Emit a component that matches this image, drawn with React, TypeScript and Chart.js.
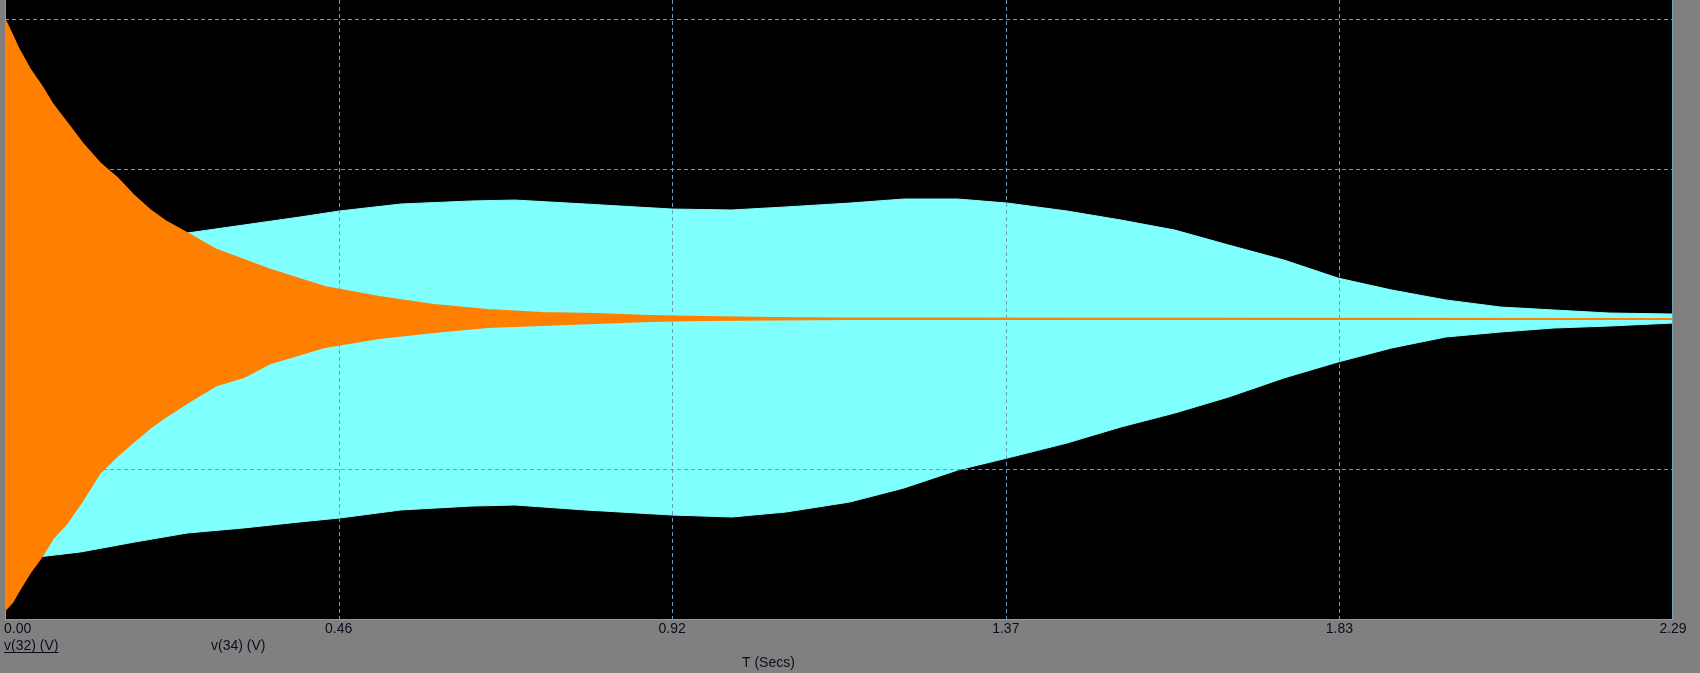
import React, { useEffect, useRef } from "react";
import { Chart, registerables } from "chart.js";

Chart.register(...registerables);

// ---- axis / text data ----
const xTickValues = [0, 0.458, 0.916, 1.374, 1.832, 2.29];
const xTickLabels = ["0.00", "0.46", "0.92", "1.37", "1.83", "2.29"];
const yGridValues = [-1, 0, 1, 2];
const seriesNames = ["v(32) (V)", "v(34) (V)"];
const xAxisTitle = "T (Secs)";

// ---- v(34) (cyan) envelope ----
const v34Time = [
  0.004, 0.045, 0.104, 0.178, 0.25, 0.328, 0.405, 0.459, 0.544, 0.641, 0.7,
  0.796, 0.916, 0.998, 1.072, 1.16, 1.234, 1.308, 1.376, 1.458, 1.532, 1.606,
  1.68, 1.756, 1.83, 1.904, 1.978, 2.053, 2.127, 2.202, 2.29,
];
const v34Upper = [
  0.527, 0.533, 0.54, 0.553, 0.573, 0.627, 0.68, 0.72, 0.767, 0.787, 0.793,
  0.767, 0.733, 0.727, 0.747, 0.773, 0.8, 0.8, 0.773, 0.72, 0.66, 0.593,
  0.493, 0.393, 0.273, 0.193, 0.127, 0.08, 0.06, 0.04, 0.033,
];
const v34Lower = [
  -1.607, -1.587, -1.553, -1.487, -1.427, -1.393, -1.353, -1.327, -1.273,
  -1.247, -1.24, -1.273, -1.307, -1.32, -1.287, -1.22, -1.127, -1.007, -0.927,
  -0.827, -0.72, -0.627, -0.52, -0.393, -0.287, -0.193, -0.12, -0.087, -0.06,
  -0.047, -0.027,
];

// ---- v(32) (orange) envelope ----
const v32Time = [
  0, 0.01, 0.018, 0.034, 0.051, 0.066, 0.085, 0.106, 0.13, 0.154, 0.176,
  0.199, 0.222, 0.25, 0.291, 0.328, 0.365, 0.439, 0.514, 0.589, 0.663, 0.737,
  0.811, 0.886, 0.961, 1.057, 1.16, 2.29,
];
const v32Upper = [
  1.993, 1.893, 1.807, 1.667, 1.547, 1.427, 1.307, 1.173, 1.04, 0.94, 0.827,
  0.727, 0.647, 0.573, 0.46, 0.393, 0.327, 0.213, 0.147, 0.093, 0.06, 0.04,
  0.033, 0.02, 0.013, 0.007, 0.003, 0.0,
];
const v32Lower = [
  -1.94, -1.887, -1.82, -1.693, -1.58, -1.46, -1.36, -1.213, -1.027, -0.913,
  -0.82, -0.727, -0.647, -0.56, -0.44, -0.387, -0.293, -0.187, -0.127, -0.087,
  -0.053, -0.04, -0.027, -0.013, -0.007, -0.003, 0.0, 0.0,
];

const CYAN = "#80ffff";
const ORANGE = "#ff8000";
const GRID = "#6c9cb8";
const TEXT = "#0c0c1c";
const FONT = '14px "Liberation Sans", Arial, sans-serif';

function toPoints(t: number[], v: number[]) {
  return t.map((x, i) => ({ x, y: v[i] }));
}

export default function App() {
  const ref = useRef<HTMLCanvasElement>(null);

  useEffect(() => {
    const prevMargin = document.body.style.margin;
    document.body.style.margin = "0";
    const canvas = ref.current!;

    const scopePlugin = {
      id: "scope",
      beforeDraw(chart: any) {
        const { ctx, chartArea: a } = chart;
        ctx.save();
        ctx.fillStyle = "#808080";
        ctx.fillRect(0, 0, chart.width, chart.height);
        ctx.fillStyle = "#000000";
        ctx.fillRect(a.left, a.top, a.right - a.left, a.bottom - a.top);
        ctx.restore();
      },
      afterDatasetDraw(chart: any, args: any) {
        // gridlines go over the v(34) band, under v(32)
        if (args.index !== 2) return;
        const { ctx, chartArea: a, scales } = chart;
        ctx.save();
        ctx.beginPath();
        ctx.rect(a.left, a.top, a.right - a.left, a.bottom - a.top);
        ctx.clip();
        ctx.strokeStyle = GRID;
        ctx.lineWidth = 1;
        ctx.setLineDash([4, 3]);
        xTickValues.forEach((v) => {
          const x = Math.round(scales.x.getPixelForValue(v)) + 0.5;
          ctx.beginPath();
          ctx.moveTo(x, a.top);
          ctx.lineTo(x, a.bottom);
          ctx.stroke();
        });
        yGridValues.forEach((v) => {
          const y = Math.round(scales.y.getPixelForValue(v)) + 0.5;
          ctx.beginPath();
          ctx.moveTo(a.left, y);
          ctx.lineTo(a.right, y);
          ctx.stroke();
        });
        ctx.restore();
      },
      afterDraw(chart: any) {
        const { ctx, chartArea: a, scales } = chart;
        ctx.save();
        ctx.strokeStyle = "#6fa6c2";
        ctx.lineWidth = 1;
        ctx.setLineDash([]);
        ctx.beginPath();
        ctx.moveTo(a.left + 0.5, a.top);
        ctx.lineTo(a.left + 0.5, a.bottom + 0.5);
        ctx.lineTo(a.right - 0.5, a.bottom + 0.5);
        ctx.lineTo(a.right - 0.5, a.top);
        ctx.stroke();
        ctx.fillStyle = TEXT;
        ctx.font = FONT;
        ctx.textBaseline = "alphabetic";
        xTickValues.forEach((v, i) => {
          const x = scales.x.getPixelForValue(v);
          ctx.textAlign = i === 0 ? "left" : "center";
          ctx.fillText(xTickLabels[i], i === 0 ? x - 1 : x, a.bottom + 14);
        });
        ctx.textAlign = "left";
        ctx.fillText(seriesNames[0], 4, a.bottom + 31);
        const w = ctx.measureText(seriesNames[0]).width;
        ctx.fillRect(4, a.bottom + 33, w, 1);
        ctx.fillText(seriesNames[1], 211, a.bottom + 31);
        ctx.fillText(xAxisTitle, 742, a.bottom + 48);
        ctx.restore();
      },
    };

    const chart = new Chart(canvas, {
      type: "line",
      data: {
        datasets: [
          {
            label: "v(32) upper",
            data: toPoints(v32Time, v32Upper),
            borderColor: ORANGE,
            backgroundColor: ORANGE,
            borderWidth: 2,
            pointRadius: 0,
            fill: "+1",
          },
          {
            label: "v(32) lower",
            data: toPoints(v32Time, v32Lower),
            borderColor: ORANGE,
            backgroundColor: ORANGE,
            borderWidth: 2,
            pointRadius: 0,
            fill: false,
          },
          {
            label: "v(34) upper",
            data: toPoints(v34Time, v34Upper),
            borderColor: CYAN,
            backgroundColor: CYAN,
            borderWidth: 1,
            pointRadius: 0,
            fill: "+1",
          },
          {
            label: "v(34) lower",
            data: toPoints(v34Time, v34Lower),
            borderColor: CYAN,
            backgroundColor: CYAN,
            borderWidth: 1,
            pointRadius: 0,
            fill: false,
          },
        ],
      },
      options: {
        responsive: false,
        animation: false,
        devicePixelRatio: 1,
        events: [],
        layout: { padding: { left: 5, right: 27, top: 0, bottom: 54 } },
        elements: { line: { tension: 0 } },
        plugins: {
          legend: { display: false },
          tooltip: { enabled: false },
        },
        scales: {
          x: { type: "linear", min: 0, max: 2.29, display: false },
          y: { type: "linear", min: -2, max: 2.1267, display: false },
        },
      },
      plugins: [scopePlugin],
    } as any);

    return () => {
      chart.destroy();
      document.body.style.margin = prevMargin;
    };
  }, []);

  return (
    <div
      style={{
        position: "fixed",
        left: 0,
        top: 0,
        width: 1700,
        height: 673,
        background: "#808080",
      }}
    >
      <canvas ref={ref} width={1700} height={673} style={{ display: "block" }} />
    </div>
  );
}
